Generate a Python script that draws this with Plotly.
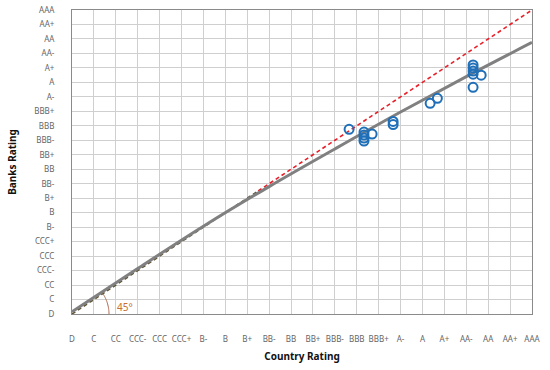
import numpy as np
import plotly.graph_objects as go

ratings = ["D", "C", "CC", "CCC-", "CCC", "CCC+", "B-", "B", "B+", "BB-", "BB",
           "BB+", "BBB-", "BBB", "BBB+", "A-", "A", "A+", "AA-", "AA", "AA+", "AAA"]

# observed bank ratings vs country ratings (numeric rating scale, D = 0)
country_x = [12.65, 13.33, 13.33, 13.33, 13.33, 13.7, 14.66, 14.66, 16.35, 16.68,
             18.31, 18.31, 18.31, 18.31, 18.68, 18.31]
bank_y = [12.76, 12.57, 12.36, 12.15, 11.95, 12.43, 13.3, 13.09, 14.55, 14.9,
          17.2, 16.99, 16.78, 16.57, 16.5, 15.66]

# fitted curve
fit_x = [0, 3, 6, 9, 12, 15, 18, 21]
fit_y = [0.15, 3.14, 6.06, 8.8, 11.4, 13.95, 16.4, 18.76]

# 45-degree reference line
ref_dark_x = [0, 8.5]
ref_dark_y = [0, 8.5]
ref_red_x = [8.5, 21]
ref_red_y = [8.5, 21]

fig = go.Figure()

fig.add_trace(go.Scatter(x=ref_dark_x, y=ref_dark_y, mode="lines",
                         line=dict(color="#5e5030", width=1.6, dash="4px,3px"),
                         hoverinfo="skip", showlegend=False))
fig.add_trace(go.Scatter(x=ref_red_x, y=ref_red_y, mode="lines",
                         line=dict(color="#e8202a", width=1.6, dash="4px,3px"),
                         hoverinfo="skip", showlegend=False))
fig.add_trace(go.Scatter(x=fit_x, y=fit_y, mode="lines", line_shape="spline",
                         line=dict(color="#808080", width=3),
                         hoverinfo="skip", showlegend=False))
fig.add_trace(go.Scatter(x=country_x, y=bank_y, mode="markers",
                         marker=dict(symbol="circle-open", size=9,
                                     color="#1f6fb8", line=dict(width=2, color="#1f6fb8")),
                         showlegend=False))

# angle arc (decoration): radius ~37 px in pixel space
plot_w, plot_h = 460, 304
ux, uy = plot_w / 21, plot_h / 21
r = 37
ang = np.linspace(0, np.arctan2(uy, ux), 20)
arc_x = r * np.cos(ang) / ux
arc_y = r * np.sin(ang) / uy
path = "M " + " L ".join(f"{a:.4f},{b:.4f}" for a, b in zip(arc_x, arc_y))
fig.add_shape(type="path", path=path, xref="x", yref="y",
              line=dict(color="#b06a50", width=1))
fig.add_annotation(x=1.95, y=0.45, xref="x", yref="y", text="45°", showarrow=False,
                   font=dict(size=10, color="#c8702e", family="Noto Sans"), xanchor="left")

axis_common = dict(
    range=[0, 21], tickmode="array", tickvals=list(range(len(ratings))), ticktext=ratings,
    showgrid=True, gridcolor="#cfcfcf", gridwidth=1, zeroline=False,
    showline=True, linecolor="#8a8a8a", linewidth=1, mirror=True,
    ticks="", tickfont=dict(size=8, color="#666666", family="Noto Sans"),
    automargin=False,
)

fig.update_xaxes(**axis_common, ticklabelstandoff=17,
                 title=dict(text="<b>Country Rating</b>", standoff=10,
                            font=dict(size=10, color="#111111", family="Noto Sans")))
fig.update_yaxes(**axis_common, ticklabelstandoff=15,
                 title=dict(text="<b>Banks Rating</b>", standoff=15,
                            font=dict(size=10, color="#111111", family="Noto Sans")))

fig.update_layout(
    width=550, height=370,
    margin=dict(l=72, r=18, t=10, b=56),
    plot_bgcolor="white", paper_bgcolor="white",
    showlegend=False,
)

# remove the page's default body margin so the figure sits at the window origin
fig.write_html("out.html", config={"displayModeBar": False},
               post_script="document.body.style.margin='0';")
